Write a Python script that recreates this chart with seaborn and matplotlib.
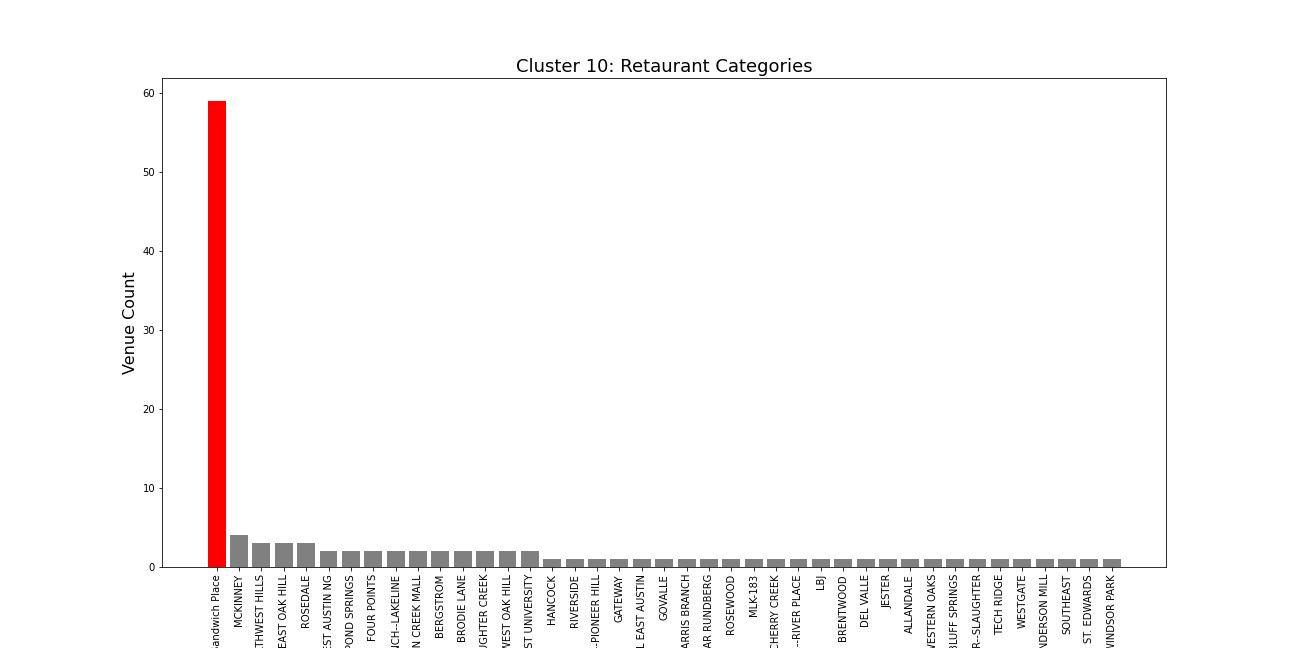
import numpy as np
import seaborn as sns
import matplotlib.pyplot as plt

neighborhoods = ["Sandwich Place", "MCKINNEY", "NORTHWEST HILLS", "EAST OAK HILL", "ROSEDALE",
                 "WEST AUSTIN NG", "POND SPRINGS", "FOUR POINTS", "RANCH--LAKELINE",
                 "BARTON CREEK MALL", "BERGSTROM", "BRODIE LANE", "SLAUGHTER CREEK",
                 "WEST OAK HILL", "WEST UNIVERSITY", "HANCOCK", "RIVERSIDE",
                 "WALNUT--PIONEER HILL", "GATEWAY", "CENTRAL EAST AUSTIN", "GOVALLE",
                 "HARRIS BRANCH", "NORTH LAMAR RUNDBERG", "ROSEWOOD", "MLK-183",
                 "CHERRY CREEK", "WESTLAKE--RIVER PLACE", "LBJ", "BRENTWOOD", "DEL VALLE",
                 "JESTER", "ALLANDALE", "WESTERN OAKS", "BLUFF SPRINGS",
                 "SOUTH LAMAR--SLAUGHTER", "TECH RIDGE", "WESTGATE", "ANDERSON MILL",
                 "SOUTHEAST", "ST. EDWARDS", "WINDSOR PARK"]
venue_counts = [59, 4, 3, 3, 3,
                2, 2, 2, 2, 2, 2, 2, 2, 2, 2,
                1, 1, 1, 1, 1, 1, 1, 1, 1, 1, 1, 1, 1, 1, 1,
                1, 1, 1, 1, 1, 1, 1, 1, 1, 1, 1]

colors = ["red"] + ["grey"] * (len(neighborhoods) - 1)

fig = plt.figure(figsize=(18, 9), dpi=72)
ax = fig.add_axes([0.125, 0.125, 0.775, 0.755])
sns.barplot(x=neighborhoods, y=venue_counts, hue=neighborhoods, palette=colors,
            legend=False, width=0.8, saturation=1, ax=ax)

n = len(neighborhoods)
pad = 0.05 * (n - 1 + 0.8)
ax.set_xlim(-0.4 - pad, n - 1 + 0.4 + pad)
ax.set_ylim(0, max(venue_counts) * 1.05)
ax.tick_params(axis="x", rotation=90, labelsize=10)
ax.tick_params(axis="y", labelsize=10)
ax.set_title("Cluster 10: Retaurant Categories", fontsize=18)
ax.set_ylabel("Venue Count", fontsize=16)
ax.set_xlabel("")

fig.savefig("out.png", dpi=72)
